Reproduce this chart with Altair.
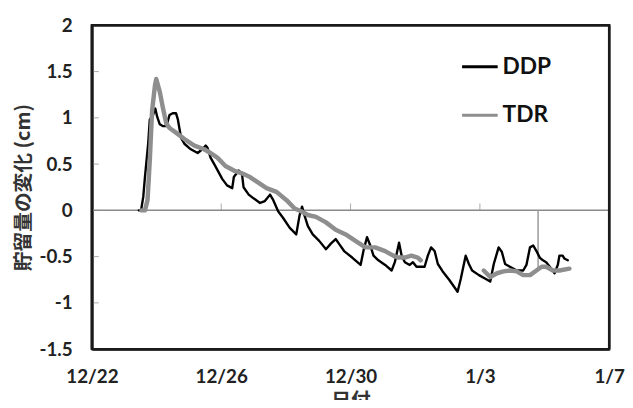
import altair as alt
import pandas as pd

# ---- data (x = days since 12/22) ----
ddp_days = [1.45, 1.52, 1.59, 1.64, 1.74, 1.79, 1.89, 1.96, 2.02, 2.10, 2.20, 2.30, 2.40, 2.50, 2.60,
            2.66, 2.76, 2.86, 3.06, 3.27, 3.42, 3.52, 3.57, 3.67, 3.83, 4.03, 4.18, 4.34, 4.39, 4.54,
            4.64, 4.69, 4.85, 5.00, 5.20, 5.35, 5.51, 5.61, 5.76, 5.91, 6.12, 6.32, 6.42, 6.50, 6.57,
            6.68, 6.83, 7.03, 7.24, 7.39, 7.54, 7.64, 7.80, 8.05, 8.31, 8.41, 8.51, 8.61, 8.71, 8.86,
            9.07, 9.27, 9.37, 9.50, 9.58, 9.68, 9.83, 9.93, 10.04, 10.29, 10.39, 10.49, 10.60, 10.70,
            10.85, 11.05, 11.31, 11.41, 11.56, 11.66, 11.76, 11.97, 12.17, 12.32, 12.43, 12.58, 12.68,
            12.78, 12.93, 13.14, 13.34, 13.44, 13.55, 13.65, 13.75, 13.85, 13.95, 14.05, 14.21, 14.31,
            14.41, 14.46, 14.56, 14.61, 14.72]
ddp_vals = [0.00, 0.00, 0.15, 0.36, 0.72, 0.98, 1.03, 1.10, 1.01, 0.93, 0.91, 0.91, 1.03, 1.05, 1.05,
            0.98, 0.78, 0.72, 0.66, 0.62, 0.66, 0.70, 0.68, 0.57, 0.47, 0.34, 0.27, 0.24, 0.36, 0.43,
            0.40, 0.25, 0.17, 0.13, 0.08, 0.10, 0.17, 0.11, -0.01, -0.08, -0.19, -0.26, -0.06, 0.04, -0.05,
            -0.17, -0.26, -0.33, -0.42, -0.36, -0.31, -0.36, -0.44, -0.51, -0.59, -0.42, -0.29, -0.38, -0.49, -0.54,
            -0.59, -0.65, -0.56, -0.35, -0.49, -0.56, -0.59, -0.56, -0.61, -0.61, -0.49, -0.40, -0.44, -0.58,
            -0.66, -0.75, -0.88, -0.74, -0.49, -0.58, -0.65, -0.70, -0.74, -0.77, -0.58, -0.40, -0.45,
            -0.58, -0.61, -0.65, -0.65, -0.59, -0.40, -0.38, -0.44, -0.51, -0.54, -0.56, -0.63, -0.68,
            -0.59, -0.49, -0.49, -0.52, -0.54]

tdr1_days = [1.53, 1.64, 1.72, 1.79, 1.86, 1.95, 1.99, 2.10, 2.20, 2.30, 2.40, 2.60, 2.86, 3.17, 3.47,
             3.67, 3.88, 4.13, 4.39, 4.64, 4.89, 5.10, 5.40, 5.71, 6.02, 6.27, 6.47, 6.68, 6.93, 7.24,
             7.54, 7.85, 8.15, 8.46, 8.76, 9.07, 9.32, 9.47, 9.68, 9.88, 10.08, 10.17]
tdr1_vals = [0.00, 0.00, 0.11, 0.54, 1.07, 1.35, 1.42, 1.28, 1.10, 0.94, 0.89, 0.84, 0.77, 0.70, 0.66,
             0.62, 0.57, 0.48, 0.43, 0.40, 0.36, 0.31, 0.24, 0.20, 0.11, 0.02, -0.01, -0.05, -0.07, -0.13,
             -0.21, -0.26, -0.33, -0.40, -0.40, -0.44, -0.49, -0.51, -0.51, -0.49, -0.51, -0.54]
tdr2_days = [12.12, 12.32, 12.53, 12.73, 12.94, 13.14, 13.34, 13.55, 13.75, 13.91, 14.05, 14.26, 14.46, 14.77]
tdr2_vals = [-0.65, -0.72, -0.68, -0.66, -0.65, -0.66, -0.70, -0.70, -0.65, -0.61, -0.61, -0.65, -0.65, -0.63]

spike_day = [13.80]
spike_top = [0.0]
spike_bottom = [-0.62]

x_ticks = [0.0, 4.0, 8.0, 12.0, 16.0]
x_labels = ["12/22", "12/26", "12/30", "1/3", "1/7"]
y_ticks = [-1.5, -1.0, -0.5, 0.0, 0.5, 1.0, 1.5, 2.0]
x_domain = [0.0, 16.0]
y_domain = [-1.5, 2.0]

series_names = ["DDP", "TDR"]
series_colors = ["#000000", "#8e8e8e"]

# ---- tables ----
ddp = pd.DataFrame({"day": ddp_days, "val": ddp_vals, "series": "DDP", "seg": "a"})
tdr = pd.concat([
    pd.DataFrame({"day": tdr1_days, "val": tdr1_vals, "series": "TDR", "seg": "a"}),
    pd.DataFrame({"day": tdr2_days, "val": tdr2_vals, "series": "TDR", "seg": "b"}),
])
spike = pd.DataFrame({"day": spike_day, "top": spike_top, "bottom": spike_bottom})
xt = pd.DataFrame({"day": x_ticks[1:-1], "val": [0.0] * (len(x_ticks) - 2)})
yt = pd.DataFrame({"day": [x_domain[0]] * len(y_ticks), "val": y_ticks})
zero = pd.DataFrame({"val": [0.0]})
frame_v = pd.DataFrame({"day": x_domain, "lo": [y_domain[0]] * 2, "hi": [y_domain[1]] * 2})
frame_h = pd.DataFrame({"val": y_domain, "lo": [x_domain[0]] * 2, "hi": [x_domain[1]] * 2})

label_expr = " : ".join(f"datum.value == {v} ? '{l}'" for v, l in zip(x_ticks, x_labels)) + " : ''"

FONT = "Lato"
JP = "Noto Sans CJK JP"
FRAME = "#1a1a1a"

xscale = alt.Scale(domain=x_domain, nice=False, zero=False)
yscale = alt.Scale(domain=y_domain, nice=False, zero=False)

xaxis = alt.Axis(values=x_ticks, labelExpr=label_expr, domain=True, domainColor=FRAME,
                 domainWidth=2.5, ticks=False, grid=False,
                 labelFont=FONT, labelFontWeight="bold", labelFontSize=19, labelColor="#222",
                 labelPadding=19, title="日付", titleFont=JP, titleFontSize=20,
                 titleFontWeight="bold", titleColor="#333", titlePadding=4, labelFlush=False)
yaxis = alt.Axis(values=y_ticks, labelExpr="'' + datum.value", domain=True, domainColor=FRAME,
                 domainWidth=2.5, ticks=False, grid=False,
                 labelFont=FONT, labelFontWeight="bold", labelFontSize=19, labelColor="#222",
                 labelPadding=20, title="貯留量の変化 (cm)", titleFont=JP, titleFontSize=20,
                 titleFontWeight="bold", titleColor="#333", titlePadding=6)

color = alt.Color("series:N", scale=alt.Scale(domain=series_names, range=series_colors),
                  legend=alt.Legend(orient="none", legendX=373, legendY=22, title=None,
                                    symbolType="stroke", symbolSize=1300, symbolStrokeWidth=3,
                                    labelFont=FONT, labelFontWeight="bold", labelFontSize=23,
                                    labelColor="#111", rowPadding=17, padding=0, labelOffset=3))

X = lambda f: alt.X(f, scale=xscale, axis=xaxis)
Y = lambda f: alt.Y(f, scale=yscale, axis=yaxis)

zero_rule = alt.Chart(zero).mark_rule(color="#8a8a8a", strokeWidth=1.5).encode(y=Y("val:Q"))

xtick_layer = alt.Chart(xt).mark_tick(orient="vertical", size=7, thickness=1, yOffset=-3.5,
                                      color="#888").encode(x=X("day:Q"), y=Y("val:Q"))

ytick_layer = alt.Chart(yt).mark_tick(orient="horizontal", size=6, thickness=1, xOffset=4,
                                      color="#888").encode(x=X("day:Q"), y=Y("val:Q"))

spike_layer = alt.Chart(spike).mark_rule(color="#9a9a9a", strokeWidth=1.5).encode(
    x=X("day:Q"), y=Y("top:Q"), y2="bottom:Q")

ddp_layer = alt.Chart(ddp).mark_line(strokeWidth=2.4, strokeJoin="round", strokeCap="round").encode(
    x=X("day:Q"), y=Y("val:Q"), color=color, detail="seg:N", order="day:Q")

tdr_layer = alt.Chart(tdr).mark_line(strokeWidth=4.5, strokeJoin="round", strokeCap="round").encode(
    x=X("day:Q"), y=Y("val:Q"), color=color, detail="seg:N", order="day:Q")

frame_v_layer = alt.Chart(frame_v).mark_rule(color=FRAME, strokeWidth=2.5).encode(
    x=X("day:Q"), y=Y("lo:Q"), y2="hi:Q")
frame_h_layer = alt.Chart(frame_h).mark_rule(color=FRAME, strokeWidth=2.5).encode(
    y=Y("val:Q"), x=X("lo:Q"), x2="hi:Q")

chart = alt.layer(zero_rule, xtick_layer, ytick_layer, spike_layer, ddp_layer, tdr_layer,
                  frame_v_layer, frame_h_layer).properties(
    width=524, height=328,
    padding={"left": 85, "top": 15, "right": 16, "bottom": 49},
    autosize=alt.AutoSizeParams(type="none"),
    background="white",
).configure_view(stroke=FRAME, strokeWidth=2.5)

chart.save("out.html", embed_options={"renderer": "svg", "actions": False})
